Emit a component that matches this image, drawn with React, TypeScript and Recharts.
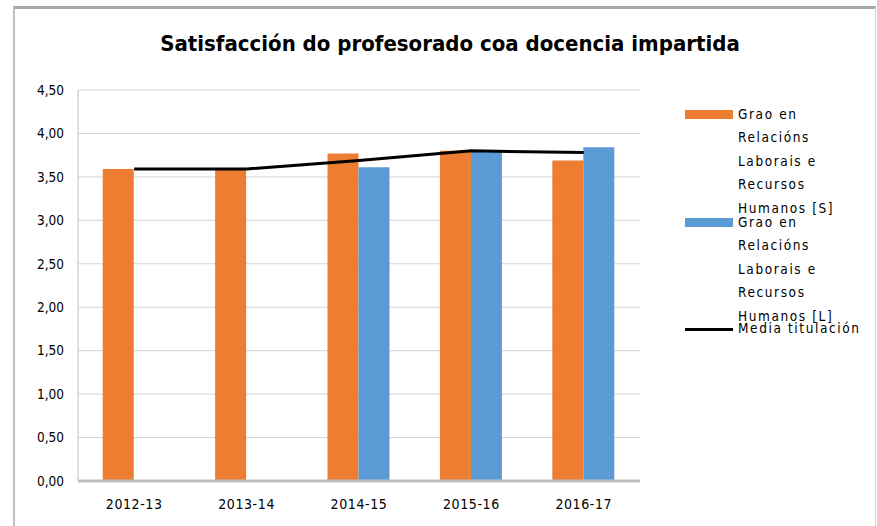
import { ComposedChart, Bar, Line, XAxis, YAxis, CartesianGrid } from 'recharts';

const categories = ['2012-13', '2013-14', '2014-15', '2015-16', '2016-17'];
const gradoS = [3.59, 3.59, 3.77, 3.8, 3.69];
const gradoL = [null, null, 3.61, 3.8, 3.84];
const mediaTitulacion = [3.59, 3.59, 3.69, 3.8, 3.78];
const yTicks = [0, 0.5, 1, 1.5, 2, 2.5, 3, 3.5, 4, 4.5];

const seriesS = 'Grao en Relacións Laborais e Recursos Humanos [S]';
const seriesL = 'Grao en Relacións Laborais e Recursos Humanos [L]';
const seriesMedia = 'Media titulación';

const data = categories.map((name, i) => ({
  name,
  [seriesS]: gradoS[i],
  [seriesL]: gradoL[i],
  [seriesMedia]: mediaTitulacion[i],
}));

const FONT = '"DejaVu Sans Condensed", "Liberation Sans", sans-serif';
const ORANGE = '#ED7D31';
const BLUE = '#5B9BD5';

const fmt = (v: number) => v.toFixed(2).replace('.', ',');

// Excel style legend: narrow text column, entries overlapping a bit
const CustomLegend = () => {
  const wrapLines = ['Grao en', 'Relacións', 'Laborais e', 'Recursos'];
  const entry = (top: number, color: string, lines: string[], isLine = false) => (
    <div style={{ position: 'absolute', left: 0, top, width: 190 }}>
      <div
        style={{
          position: 'absolute',
          left: 0,
          top: isLine ? 8 : 4,
          width: 48,
          height: isLine ? 3 : 9,
          background: color,
        }}
      />
      {lines.map((l, j) => (
        <div
          key={j}
          style={{
            position: 'absolute',
            left: 53,
            top: j * 23.4,
            whiteSpace: 'nowrap',
            fontSize: 13.5,
            lineHeight: '17px',
            color: '#000',
            letterSpacing: 1.6,
          }}
        >
          {l}
        </div>
      ))}
    </div>
  );
  return (
    <div style={{ position: 'absolute', left: 685, top: 106, width: 190, height: 240, fontFamily: FONT }}>
      {entry(0, ORANGE, [...wrapLines, 'Humanos [S]'])}
      {entry(108, BLUE, [...wrapLines, 'Humanos [L]'])}
      {entry(214, '#000', [seriesMedia], true)}
    </div>
  );
};

export default function App() {
  return (
    <div style={{ position: 'absolute', left: 0, top: 0, width: 877, height: 526, background: '#fff', fontFamily: FONT, overflow: 'hidden' }}>
      {/* chart frame */}
      <div
        style={{
          position: 'absolute',
          left: 13,
          top: 6,
          width: 860,
          height: 530,
          borderTop: '3px solid #a6a6a6',
          borderLeft: '2px solid #bfbfbf',
          borderRight: '1px solid #d0d0d0',
        }}
      />
      <ComposedChart
        width={877}
        height={526}
        data={data}
        margin={{ top: 90, right: 237, left: 0, bottom: 15 }}
        barCategoryGap="22%"
        barGap={0}
        style={{ position: 'absolute', left: 0, top: 0 }}
      >
        <CartesianGrid vertical={false} stroke="#d4d4d4" strokeWidth={1} />
        <XAxis
          dataKey="name"
          height={30}
          tickLine={false}
          stroke="#bfbfbf"
          strokeWidth={3}
          tickMargin={12}
          tick={{ fill: '#000', fontSize: 14, fontFamily: FONT, letterSpacing: 0.6 }}
        />
        <YAxis
          width={78}
          domain={[0, 4.5]}
          ticks={yTicks}
          tickFormatter={fmt}
          tickLine={false}
          stroke="#bfbfbf"
          tickMargin={8}
          tick={{ fill: '#000', fontSize: 13.5, fontFamily: FONT }}
        />
        <Bar dataKey={seriesS} fill={ORANGE} isAnimationActive={false} />
        <Bar dataKey={seriesL} fill={BLUE} isAnimationActive={false} />
        <Line
          dataKey={seriesMedia}
          stroke="#000"
          strokeWidth={3}
          dot={false}
          type="linear"
          isAnimationActive={false}
        />
      </ComposedChart>
      <div
        style={{
          position: 'absolute',
          left: 0,
          width: 900,
          top: 31,
          textAlign: 'center',
          fontSize: 22,
          fontWeight: 'bold',
          color: '#000',
        }}
      >
        Satisfacción do profesorado coa docencia impartida
      </div>
      <CustomLegend />
    </div>
  );
}
